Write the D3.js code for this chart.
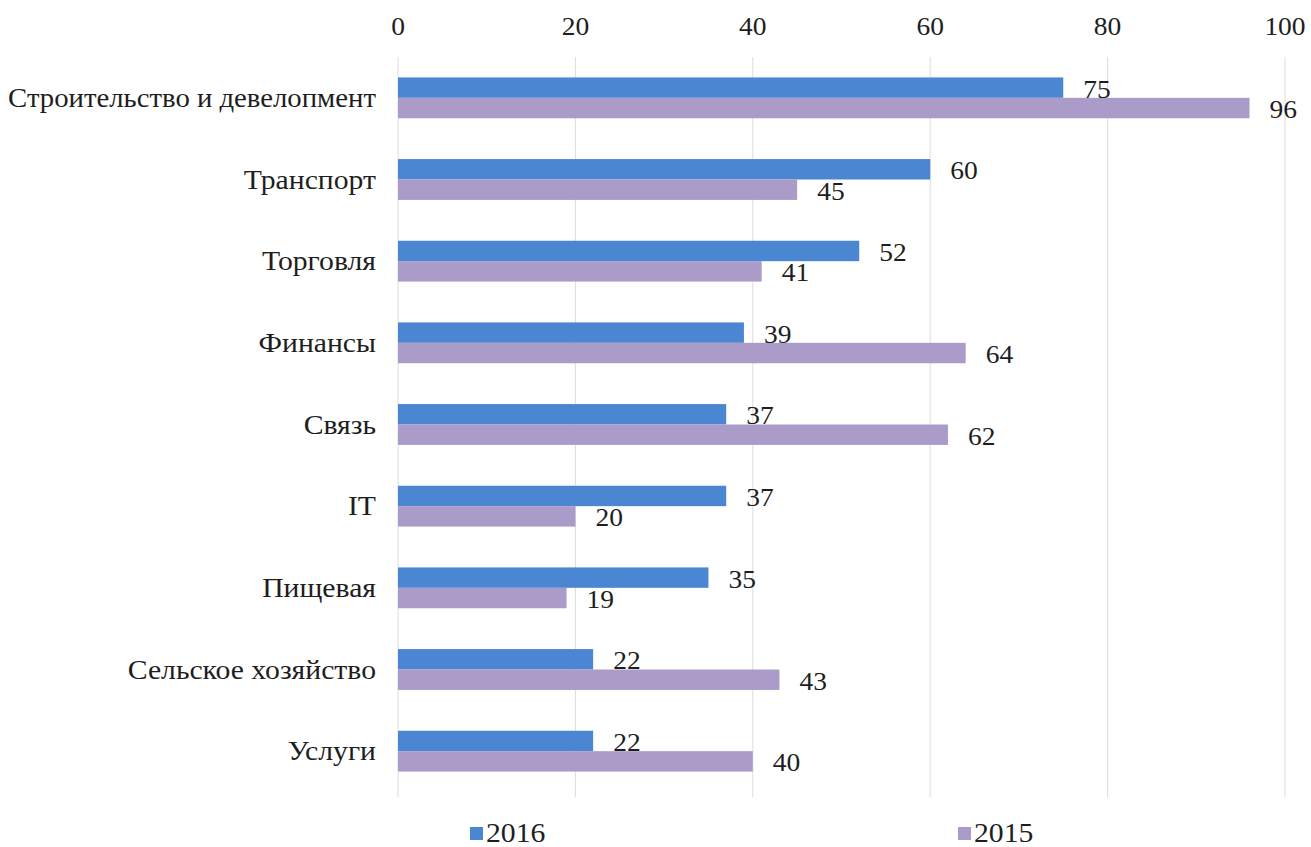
<!DOCTYPE html>
<html>
<head>
<meta charset="utf-8">
<script src="https://cdn.jsdelivr.net/npm/d3@7"></script>
<style>
  body { margin: 0; background: #fff; }
</style>
</head>
<body>
<div id="container"></div>
<script>
/* DATA */
const categories = ["Строительство и девелопмент", "Транспорт", "Торговля", "Финансы", "Связь", "IT", "Пищевая", "Сельское хозяйство", "Услуги"];
const series = ["2016", "2015"];
const values2016 = [75, 60, 52, 39, 37, 37, 35, 22, 22];
const values2015 = [96, 45, 41, 64, 62, 20, 19, 43, 40];
const xTicks = [0, 20, 40, 60, 80, 100];

const width = 1311;
const height = 847;
const fontFam = "'Liberation Serif', 'Times New Roman', serif";
const stretch = 1.1; // the source picture is a bit wider than tall

const data = categories.map((c, i) => ({ cat: c, "2016": values2016[i], "2015": values2015[i] }));

/* SCALES */
const xScale = d3.scaleLinear()
  .domain([0, 100])
  .range([398, 1285]);

const yScale = d3.scaleBand()
  .domain(categories)
  .range([57, 792])
  .paddingInner(0.5)
  .paddingOuter(0.25);

const ySub = d3.scaleBand()
  .domain(series)
  .range([0, yScale.bandwidth()]);

const color = d3.scaleOrdinal()
  .domain(series)
  .range(["#4a86d2", "#aa9bc8"]);

/* SVG */
const svg = d3.select("#container")
  .append("svg")
  .attr("width", width)
  .attr("height", height)
  .style("font-family", fontFam);

// text helper: a g at (x,y) stretched horizontally, text at its origin
function label(sel, x, y, size, anchor) {
  return sel.append("g")
    .attr("transform", d => `translate(${x(d)},${y(d)}) scale(${stretch},1)`)
    .append("text")
    .attr("text-anchor", anchor)
    .style("font-family", fontFam)
    .style("font-size", size + "px")
    .attr("fill", "#1e1e1e");
}

// gridlines
svg.append("g")
  .selectAll("line")
  .data(xTicks)
  .join("line")
  .attr("x1", d => xScale(d))
  .attr("x2", d => xScale(d))
  .attr("y1", 57)
  .attr("y2", 797)
  .attr("stroke", "#dcdcdc")
  .attr("stroke-width", 1);

// top axis labels
const tickG = svg.append("g").selectAll("g").data(xTicks).join("g");
label(tickG, d => xScale(d), () => 35, 25, "middle").text(d => d);

// bar groups
const groups = svg.append("g")
  .selectAll("g")
  .data(data)
  .join("g")
  .attr("transform", d => `translate(0,${yScale(d.cat)})`);

groups.selectAll("rect")
  .data(d => series.map(s => ({ key: s, value: d[s] })))
  .join("rect")
  .attr("x", xScale(0))
  .attr("y", d => ySub(d.key))
  .attr("width", d => xScale(d.value) - xScale(0))
  .attr("height", ySub.bandwidth())
  .attr("fill", d => color(d.key));

// value labels
const valG = groups.selectAll("g.val")
  .data(d => series.map(s => ({ key: s, value: d[s] })))
  .join("g")
  .attr("class", "val");
label(valG, d => xScale(d.value) + 20, d => ySub(d.key) + ySub.bandwidth() / 2 + 10, 25, "start")
  .text(d => d.value);

// category labels (long one gets squeezed to stay inside the page)
const catX = 376;
const catG = svg.append("g").selectAll("g").data(categories).join("g");
label(catG, () => catX, d => yScale(d) + yScale.bandwidth() / 2 + 9, 27, "end")
  .text(d => d)
  .each(function(d) {
    const w = this.getComputedTextLength();
    const s = Math.min(stretch, (catX - 8) / w);
    d3.select(this.parentNode)
      .attr("transform", `translate(${catX},${yScale(d) + yScale.bandwidth() / 2 + 9}) scale(${s},1)`);
  });

// legend
const legend = svg.append("g")
  .selectAll("g")
  .data(series)
  .join("g")
  .attr("transform", (d, i) => `translate(${i === 0 ? 470 : 958},0)`);

legend.append("rect")
  .attr("x", 0)
  .attr("y", 827)
  .attr("width", 13)
  .attr("height", 13)
  .attr("fill", d => color(d));

label(legend, () => 16, () => 842, 27, "start").text(d => d);
</script>
</body>
</html>
